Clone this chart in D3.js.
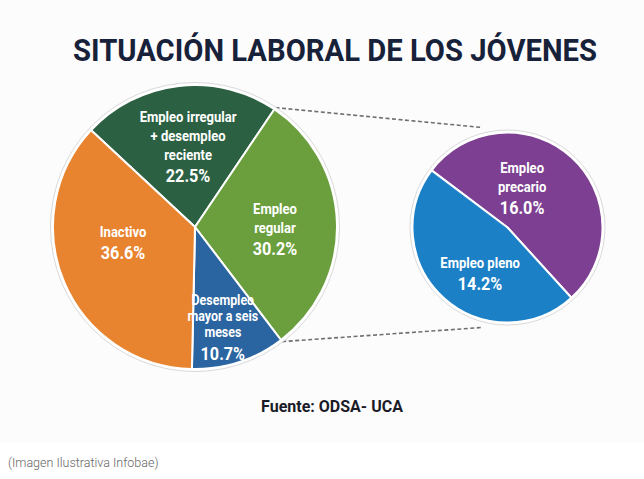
<!DOCTYPE html>
<html>
<head>
<meta charset="utf-8">
<script src="https://cdn.jsdelivr.net/npm/d3@7"></script>
<style>
  html, body { margin: 0; padding: 0; background: #ffffff; }
  svg { display: block; }
</style>
</head>
<body>
<svg id="chart" width="644" height="479"></svg>
<script>
// ---- data ----
const mainCategories = ["Empleo irregular + desempleo reciente", "Empleo regular", "Desempleo mayor a seis meses", "Inactivo"];
const mainValues = [22.5, 30.2, 10.7, 36.6];
const mainLabelLines = [["Empleo irregular", "+ desempleo", "reciente"], ["Empleo", "regular"], ["Desempleo", "mayor a seis", "meses"], ["Inactivo"]];
const subCategories = ["Empleo precario", "Empleo pleno"];
const subValues = [16.0, 14.2];
const subLabelLines = [["Empleo", "precario"], ["Empleo pleno"]];
const titleText = "SITUACIÓN LABORAL DE LOS JÓVENES";
const sourceText = "Fuente: ODSA- UCA";
const captionText = "(Imagen Ilustrativa Infobae)";

// ---- styles / layout ----
const mainColors = ["#2b6142", "#6b9f3e", "#2b65a1", "#e8832f"];
const subColors = ["#7d3f91", "#1b80c6"];
const mainCenter = [195, 227], mainR = 142;
const subCenter = [507.5, 227.5], subR = 95;
// label placement: distance from centre and angle tweak (degrees), per slice
const mainLabelDist = [81, 80, 104, 73.5];
const mainLabelAngleShift = [1.6, 3, 2.5, 11];
const mainLineH = [19, 19, 16, 19];
const mainFont = [14.5, 14.5, 13.8, 14.5];
const subLabelDist = [42, 53];
const subLabelAngleShift = [-22, -11.2];
const subLineH = [19, 19];
const subFont = [14.5, 14.5];

const svg = d3.select("#chart");
const rad = Math.PI / 180;

// background panel
svg.append("rect").attr("x", 0).attr("y", 0).attr("width", 644).attr("height", 442).attr("fill", "#fcfcfc");

// title
svg.append("text")
  .attr("x", 335).attr("y", 61)
  .attr("text-anchor", "middle")
  .attr("font-family", "Roboto, 'DejaVu Sans', sans-serif")
  .attr("font-weight", 700)
  .attr("font-size", 31)
  .attr("fill", "#17213a")
  .attr("textLength", 524)
  .attr("lengthAdjust", "spacingAndGlyphs")
  .text(titleText);

// pies
const mainPie = d3.pie().sort(null).startAngle(-47 * rad).endAngle(313 * rad)(mainValues);
const subPie = d3.pie().sort(null).startAngle(-53 * rad).endAngle(307 * rad)(subValues);
const mainArc = d3.arc().innerRadius(0).outerRadius(mainR);
const subArc = d3.arc().innerRadius(0).outerRadius(subR);

// connector dashed lines (from the "Empleo regular" slice boundaries to the detail pie)
const regular = mainPie[1];
const pt = (c, r, a) => [c[0] + r * Math.sin(a), c[1] - r * Math.cos(a)];
const connectors = [
  [pt(mainCenter, mainR + 2, regular.startAngle), pt(subCenter, subR + 8, -14 * rad)],
  [pt(mainCenter, mainR + 2, regular.endAngle), pt(subCenter, subR + 8, 194 * rad)]
];
svg.append("g").selectAll("line").data(connectors).join("line")
  .attr("x1", d => d[0][0]).attr("y1", d => d[0][1])
  .attr("x2", d => d[1][0]).attr("y2", d => d[1][1])
  .attr("stroke", "#6f6f6f").attr("stroke-width", 1.6)
  .attr("stroke-dasharray", "4,2.5");

function drawPie(center, r, pieData, arc, colors) {
  const g = svg.append("g").attr("transform", `translate(${center[0]},${center[1]})`);
  g.append("circle").attr("r", r + 2.5).attr("fill", "#ffffff").attr("stroke", "#d9d9d9").attr("stroke-width", 1);
  g.selectAll("path").data(pieData).join("path")
    .attr("d", arc)
    .attr("fill", (d, i) => colors[i])
    .attr("stroke", "#ffffff")
    .attr("stroke-width", 2)
    .attr("stroke-linejoin", "round");
  return g;
}
drawPie(mainCenter, mainR, mainPie, mainArc, mainColors);
drawPie(subCenter, subR, subPie, subArc, subColors);

function drawLabels(center, pieData, lines, dists, shifts, lineHs, fonts, numGap) {
  pieData.forEach((d, i) => {
    const a = (d.startAngle + d.endAngle) / 2 + shifts[i] * rad;
    const p = pt(center, dists[i], a);
    const n = lines[i].length;
    const lineH = lineHs[i];
    const blockH = (n - 1) * lineH + numGap;
    const top = -blockH / 2;
    const t = svg.append("g")
      .attr("transform", `translate(${p[0]},${p[1]}) scale(0.9,1)`)
      .attr("font-family", "Roboto, 'Open Sans', sans-serif")
      .attr("font-weight", 700).attr("fill", "#ffffff").attr("text-anchor", "middle");
    lines[i].forEach((ln, j) => {
      t.append("text").attr("x", 0).attr("y", top + j * lineH)
        .attr("dominant-baseline", "central").attr("font-size", fonts[i]).text(ln);
    });
    t.append("text").attr("x", 0).attr("y", top + (n - 1) * lineH + numGap)
      .attr("dominant-baseline", "central").attr("font-size", 18)
      .text(d3.format(".1f")(d.data) + "%");
  });
}
drawLabels(mainCenter, mainPie, mainLabelLines, mainLabelDist, mainLabelAngleShift, mainLineH, mainFont, 21.5);
drawLabels(subCenter, subPie, subLabelLines, subLabelDist, subLabelAngleShift, subLineH, subFont, 21);

// source
svg.append("text")
  .attr("x", 332).attr("y", 412)
  .attr("text-anchor", "middle")
  .attr("font-family", "Roboto, sans-serif")
  .attr("font-weight", 700)
  .attr("font-size", 16)
  .attr("fill", "#1b1b28")
  .text(sourceText);

// caption
svg.append("text")
  .attr("x", 8).attr("y", 467)
  .attr("font-family", "Roboto, sans-serif")
  .attr("font-weight", 300)
  .attr("font-size", 12.5)
  .attr("fill", "#666666")
  .text(captionText);
</script>
</body>
</html>
